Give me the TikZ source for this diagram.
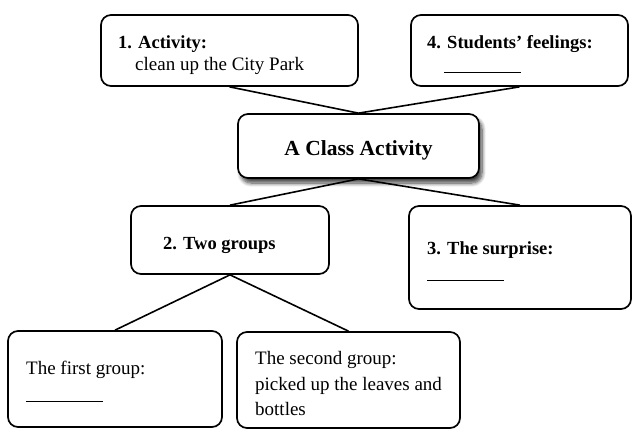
\documentclass[tikz,border=0pt]{standalone}
\usepackage{fontspec}
\setmainfont{Liberation Serif}
\usetikzlibrary{shadows.blur}
\begin{document}
\begin{tikzpicture}[x=1pt,y=-1pt,
  box/.style={draw,line width=1.7pt,rounded corners=10pt,inner sep=0pt},
  conn/.style={line width=1.6pt},
  txt/.style={anchor=base west,inner sep=0pt,font=\fontsize{19}{22}\selectfont},
  btxt/.style={txt,font=\fontsize{18.5}{22}\selectfont\bfseries},
  blank/.style={anchor=west,inner sep=0pt}]
\useasboundingbox (0,0) rectangle (640,440);
% boxes
\node[box,minimum width=257pt,minimum height=71pt] (b1) at (229.5,50.5) {};
\node[box,minimum width=217pt,minimum height=71pt] (b4) at (519.5,50.5) {};
\node[box,minimum width=241pt,minimum height=64pt,fill=white,
  blur shadow={shadow opacity=75,shadow xshift=3pt,shadow yshift=-5pt,shadow blur radius=4pt,shadow blur steps=8}] (c) at (358.5,146) {};
\node[box,minimum width=198pt,minimum height=68pt] (b2) at (230,240) {};
\node[box,minimum width=222pt,minimum height=103pt] (b3) at (520,257.5) {};
\node[box,minimum width=214pt,minimum height=96pt] (g1) at (115,379) {};
\node[box,minimum width=223pt,minimum height=96pt] (g2) at (348.5,380) {};
% connectors
\draw[conn] (b1.south) -- (c.north) -- (b4.south);
\draw[conn] (b2.north) -- (c.south) -- (b3.north);
\draw[conn] (g1.north) -- (b2.south) -- (g2.north);
% texts
\node[btxt] (t1) at (118,48) {1. Activity:};
\node[txt] (t1b) at (135,70) {clean up the City Park};
\node[btxt] (t4) at (427,48) {4. Students’ feelings:};
\node[blank] (l4) at (444,72) {\rule{77pt}{0.9pt}};
\node[inner sep=0pt,font=\fontsize{21.5}{24}\selectfont\bfseries] (tc) at (358.5,150) {A Class Activity};
\node[btxt] (t2) at (163,249) {2. Two groups};
\node[btxt] (t3) at (427,254) {3. The surprise:};
\node[blank] (l3) at (427,280) {\rule{77pt}{0.9pt}};
\node[txt] (tg1) at (26,374) {The first group:};
\node[blank] (lg1) at (26,401) {\rule{77pt}{0.9pt}};
\node[txt] (tg2a) at (255,364) {The second group:};
\node[txt] (tg2b) at (255,390) {picked up the leaves and};
\node[txt] (tg2c) at (255,415) {bottles};
\end{tikzpicture}
\end{document}
